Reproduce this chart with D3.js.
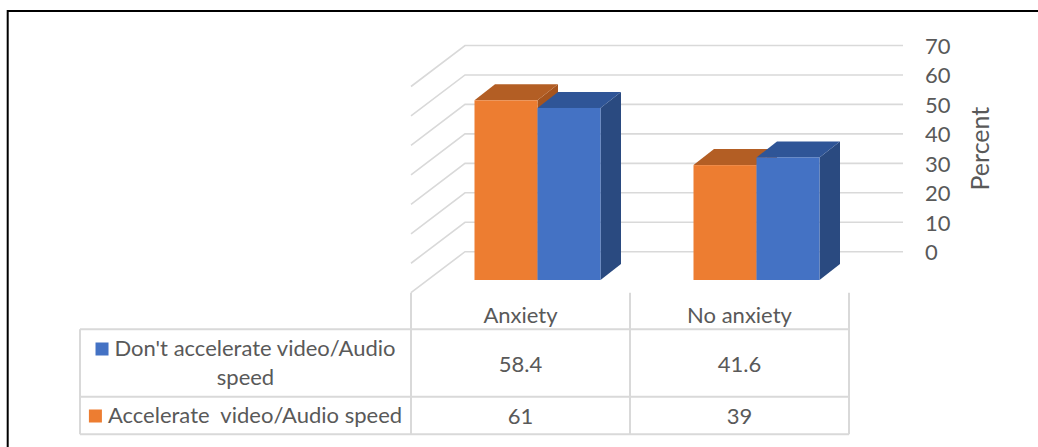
<!DOCTYPE html>
<html>
<head>
<meta charset="utf-8">
<script src="https://cdn.jsdelivr.net/npm/d3@7"></script>
<style>
  body { margin: 0; background: #fff; }
  svg { display: block; }
  text { font-family: Lato, "Open Sans", sans-serif; fill: #595959; }
</style>
</head>
<body>
<svg id="chart" width="1038" height="447"></svg>
<script>
// Categories and series
const categories = ["Anxiety", "No anxiety"];
const seriesKeys = ["accelerate", "dontAccelerate"];
const accelerate = [61, 39];
const dontAccelerate = [58.4, 41.6];
const yTicks = [0, 10, 20, 30, 40, 50, 60, 70];
const axisTitle = "Percent";

// Data table rows (top to bottom) with their legend label lines
const tableRows = [
  { key: "dontAccelerate", lines: ["Don't accelerate video/Audio", "speed"], values: dontAccelerate },
  { key: "accelerate", lines: ["Accelerate  video/Audio speed"], values: accelerate }
];

const colors = {
  accelerate:     { front: "#ED7D31", top: "#B35E24", side: "#A5541E" },
  dontAccelerate: { front: "#4472C4", top: "#2F5597", side: "#2A4A80" }
};
const gridColor = "#D9D9D9";
const fontSize = 22;

const svg = d3.select("#chart");

// Oblique 3D frame: back wall, floor depth, and bar front/back planes
const wall = { x0: 465, x1: 903, yBottom: 251.7, yTop: 45.5 };
const floorDepth = { dx: -54, dy: 41 };
const barFront = { dx: -37, dy: 28.3 };
const barBack  = { dx: -16.5, dy: 12.3 };

const y = d3.scaleLinear().domain([0, 70]).range([wall.yBottom, wall.yTop]);
const x0 = d3.scaleBand().domain(categories).range([wall.x0, wall.x1]);
const groupInner = 126;
const x1 = d3.scaleBand().domain(seriesKeys)
  .range([(x0.bandwidth() - groupInner) / 2, (x0.bandwidth() + groupInner) / 2]);

// Outer frame lines
svg.append("path")
  .attr("d", "M7.7,447V11H1038")
  .attr("fill", "none").attr("stroke", "#000").attr("stroke-width", 2);

// Back wall gridlines and side wall lines
const grid = svg.append("g").attr("fill", "none").attr("stroke", gridColor).attr("stroke-width", 1.6);
yTicks.forEach(t => {
  const yy = y(t);
  grid.append("path")
    .attr("d", `M${wall.x0 + floorDepth.dx},${yy + floorDepth.dy}L${wall.x0},${yy}H${wall.x1}`);
});

// Tick labels
svg.append("g").selectAll("text").data(yTicks).join("text")
  .attr("x", 925).attr("y", d => y(d))
  .attr("dominant-baseline", "central")
  .attr("font-size", fontSize)
  .text(d => d);

// Axis title
svg.append("text")
  .attr("transform", `translate(979,${(y(0) + y(70)) / 2}) rotate(-90)`)
  .attr("text-anchor", "middle").attr("dominant-baseline", "central")
  .attr("font-size", 25)
  .text(axisTitle);

// Bars as 3D boxes
const valuesByKey = { accelerate, dontAccelerate };
const bars = svg.append("g");
categories.forEach((cat, ci) => {
  seriesKeys.forEach(key => {
    const v = valuesByKey[key][ci];
    const bx = x0(cat) + x1(key);
    const w = x1.bandwidth();
    const fx0 = bx + barFront.dx, fx1 = fx0 + w;
    const fyTop = y(v) + barFront.dy, fyBot = y(0) + barFront.dy;
    const ddx = barBack.dx - barFront.dx, ddy = barBack.dy - barFront.dy;
    const c = colors[key];
    const g = bars.append("g");
    // right side face
    g.append("path").attr("fill", c.side)
      .attr("d", `M${fx1},${fyTop}L${fx1 + ddx},${fyTop + ddy}L${fx1 + ddx},${fyBot + ddy}L${fx1},${fyBot}Z`);
    // top face
    g.append("path").attr("fill", c.top)
      .attr("d", `M${fx0},${fyTop}L${fx1},${fyTop}L${fx1 + ddx},${fyTop + ddy}L${fx0 + ddx},${fyTop + ddy}Z`);
    // front face
    g.append("rect").attr("fill", c.front)
      .attr("x", fx0).attr("y", fyTop).attr("width", w).attr("height", fyBot - fyTop);
  });
});

// Data table
const tableX = d3.scaleBand().domain(categories)
  .range([wall.x0 + floorDepth.dx, wall.x1 + floorDepth.dx]);
const tableTop = y(0) + floorDepth.dy;
const legendLeft = 80;
const rowY = [329.3, 396.7, 434.3];
const tLeft = tableX.range()[0], tRight = tableX.range()[1];

const tbl = svg.append("g").attr("fill", "none").attr("stroke", gridColor).attr("stroke-width", 2);
rowY.forEach(ry => tbl.append("path").attr("d", `M${legendLeft},${ry}H${tRight}`));
tbl.append("path").attr("d", `M${legendLeft},${rowY[0]}V${rowY[2]}`);
[...categories.map(c => tableX(c)), tRight].forEach(cx => {
  tbl.append("path").attr("d", `M${cx},${tableTop}V${rowY[2]}`);
});

// Category headers
svg.append("g").selectAll("text").data(categories).join("text")
  .attr("x", d => tableX(d) + tableX.bandwidth() / 2)
  .attr("y", 323)
  .attr("text-anchor", "middle")
  .attr("font-size", fontSize)
  .text(d => d);

// Row values and legend cells
tableRows.forEach((row, ri) => {
  const top = rowY[ri], bot = rowY[ri + 1];
  const mid = (top + bot) / 2;
  row.values.forEach((v, ci) => {
    svg.append("text")
      .attr("x", tableX(categories[ci]) + tableX.bandwidth() / 2)
      .attr("y", mid)
      .attr("text-anchor", "middle").attr("dominant-baseline", "central")
      .attr("font-size", fontSize)
      .text(v);
  });
  const cellCenter = (legendLeft + tLeft) / 2;
  const lineH = 29;
  const firstBase = mid - (row.lines.length - 1) * lineH / 2 + 7;
  row.lines.forEach((line, li) => {
    const t = svg.append("text")
      .attr("font-size", fontSize)
      .style("white-space", "pre")
      .attr("y", firstBase + li * lineH)
      .text(line);
    const tw = t.node().getComputedTextLength();
    if (li === 0) {
      const total = 13 + 6 + tw;
      const start = cellCenter - total / 2;
      svg.append("rect")
        .attr("x", start).attr("y", firstBase - 13)
        .attr("width", 13).attr("height", 13)
        .attr("fill", colors[row.key].front);
      t.attr("x", start + 19);
    } else {
      t.attr("x", cellCenter).attr("text-anchor", "middle");
    }
  });
});
</script>
</body>
</html>
